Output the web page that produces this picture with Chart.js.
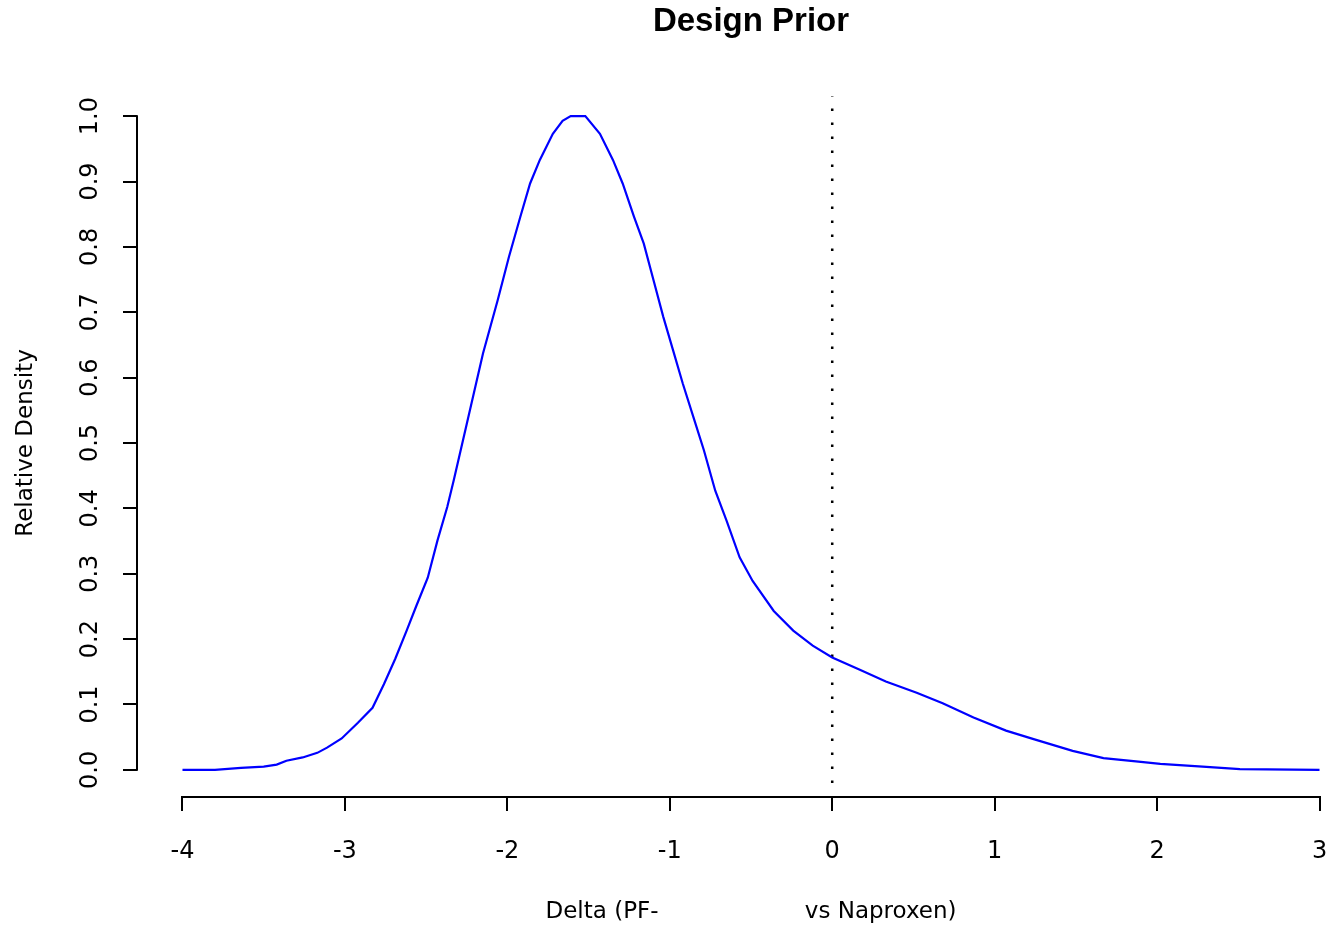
<!DOCTYPE html>
<html>
<head>
<meta charset="utf-8">
<script src="https://cdn.jsdelivr.net/npm/chart.js@4/dist/chart.umd.min.js"></script>
<style>
  html, body { margin: 0; padding: 0; background: #ffffff; overflow: hidden; width: 1331px; height: 928px; }
  canvas { display: block; }
</style>
</head>
<body>
<canvas id="c" width="1365" height="928"></canvas>
<script>
// ---- Data ----
const deltaX = [-4, -3.8, -3.64, -3.5, -3.42, -3.36, -3.26, -3.17, -3.11, -3.02,
  -2.92, -2.83, -2.76, -2.69, -2.62, -2.56, -2.49, -2.43, -2.37, -2.33,
  -2.25, -2.15, -2.06, -1.99, -1.92, -1.86, -1.80, -1.72, -1.66, -1.61,
  -1.52, -1.43, -1.35, -1.29, -1.22, -1.16, -1.10, -1.04, -0.98, -0.92,
  -0.855, -0.79, -0.72, -0.65, -0.57, -0.49, -0.36, -0.24, -0.12, 0,
  0.17, 0.33, 0.52, 0.68, 0.87, 1.07, 1.24, 1.48, 1.67, 1.87,
  2.02, 2.28, 2.51, 3.0];
const density = [0, 0, 0.003, 0.005, 0.008, 0.014, 0.019, 0.026, 0.034, 0.048,
  0.072, 0.095, 0.131, 0.17, 0.213, 0.251, 0.294, 0.351, 0.402, 0.443,
  0.529, 0.637, 0.718, 0.785, 0.846, 0.897, 0.933, 0.973, 0.993, 1.0,
  1.0, 0.973, 0.933, 0.897, 0.846, 0.805, 0.749, 0.693, 0.642, 0.591,
  0.540, 0.489, 0.427, 0.381, 0.325, 0.289, 0.243, 0.213, 0.19, 0.172,
  0.153, 0.135, 0.118, 0.102, 0.080, 0.060, 0.047, 0.029, 0.018, 0.013,
  0.009, 0.005, 0.001, 0.0];
const refLineX = [0, 0];
const refLineY = [-0.02, 1.03];
const xTicks = [-4, -3, -2, -1, 0, 1, 2, 3];
const yTicks = [0, 0.1, 0.2, 0.3, 0.4, 0.5, 0.6, 0.7, 0.8, 0.9, 1.0];
const titleText = 'Design Prior';
const xTitle = 'Delta (PF-                    vs Naproxen)';
const yTitle = 'Relative Density';

const FONT = "'DejaVu Sans', 'Liberation Sans', sans-serif";

// Draw R-style detached axis lines spanning only the tick range
const rAxisLines = {
  id: 'rAxisLines',
  afterDraw(chart) {
    const {ctx, chartArea, scales} = chart;
    ctx.save();
    ctx.strokeStyle = '#000';
    ctx.lineWidth = 2;
    ctx.beginPath();
    const y0 = chartArea.bottom + 1;
    ctx.moveTo(scales.x.getPixelForValue(xTicks[0]) - 1, y0);
    ctx.lineTo(scales.x.getPixelForValue(xTicks[xTicks.length - 1]) + 1, y0);
    const x0 = chartArea.left;
    ctx.moveTo(x0, scales.y.getPixelForValue(yTicks[0]) + 1);
    ctx.lineTo(x0, scales.y.getPixelForValue(yTicks[yTicks.length - 1]) - 1);
    ctx.stroke();
    ctx.restore();
  }
};

new Chart(document.getElementById('c'), {
  type: 'line',
  data: {
    datasets: [
      {
        data: deltaX.map((x, i) => ({x, y: density[i]})),
        borderColor: '#0000ff',
        borderWidth: 2.2,
        pointRadius: 0,
        tension: 0,
        fill: false
      },
      {
        data: refLineX.map((x, i) => ({x, y: refLineY[i]})),
        borderColor: '#000000',
        borderWidth: 2.5,
        borderDash: [2.5, 11.5],
        pointRadius: 0,
        fill: false
      }
    ]
  },
  plugins: [rAxisLines],
  options: {
    responsive: false,
    animation: false,
    devicePixelRatio: 1,
    layout: { padding: 0 },
    plugins: {
      legend: { display: false },
      tooltip: { enabled: false },
      title: {
        display: true,
        text: titleText,
        fullSize: false,
        color: '#000',
        font: { family: "'Liberation Sans', Arial, sans-serif", size: 33, weight: 'bold', lineHeight: 1 },
        padding: { top: 5, bottom: 52 }
      }
    },
    scales: {
      x: {
        type: 'linear',
        min: -4.28,
        max: 3.28,
        afterBuildTicks: s => { s.ticks = xTicks.map(v => ({value: v})); },
        afterFit: s => { s.height = 132; },
        border: { display: false },
        grid: { display: true, drawOnChartArea: false, drawTicks: true, tickLength: 15, color: '#000', lineWidth: 2 },
        ticks: {
          color: '#000',
          font: { family: FONT, size: 24 },
          padding: 26,
          maxRotation: 0,
          autoSkip: false,
          callback: v => String(v)
        },
        title: {
          display: true,
          text: xTitle,
          color: '#000',
          font: { family: FONT, size: 23, lineHeight: 1.2 },
          padding: { top: 0, bottom: 2 }
        }
      },
      y: {
        type: 'linear',
        min: -0.04,
        max: 1.04,
        afterBuildTicks: s => { s.ticks = yTicks.map(v => ({value: v})); },
        afterFit: s => { s.width = 137; },
        border: { display: false },
        grid: { display: true, drawOnChartArea: false, drawTicks: true, tickLength: 14, color: '#000', lineWidth: 2 },
        ticks: {
          color: '#000',
          font: { family: FONT, size: 24 },
          minRotation: 90,
          maxRotation: 90,
          crossAlign: 'center',
          padding: 13,
          autoSkip: false,
          callback: v => v.toFixed(1)
        },
        title: {
          display: true,
          text: yTitle,
          color: '#000',
          font: { family: FONT, size: 23, lineHeight: 1.2 },
          padding: { top: 12, bottom: 0 }
        }
      }
    }
  }
});
</script>
</body>
</html>
